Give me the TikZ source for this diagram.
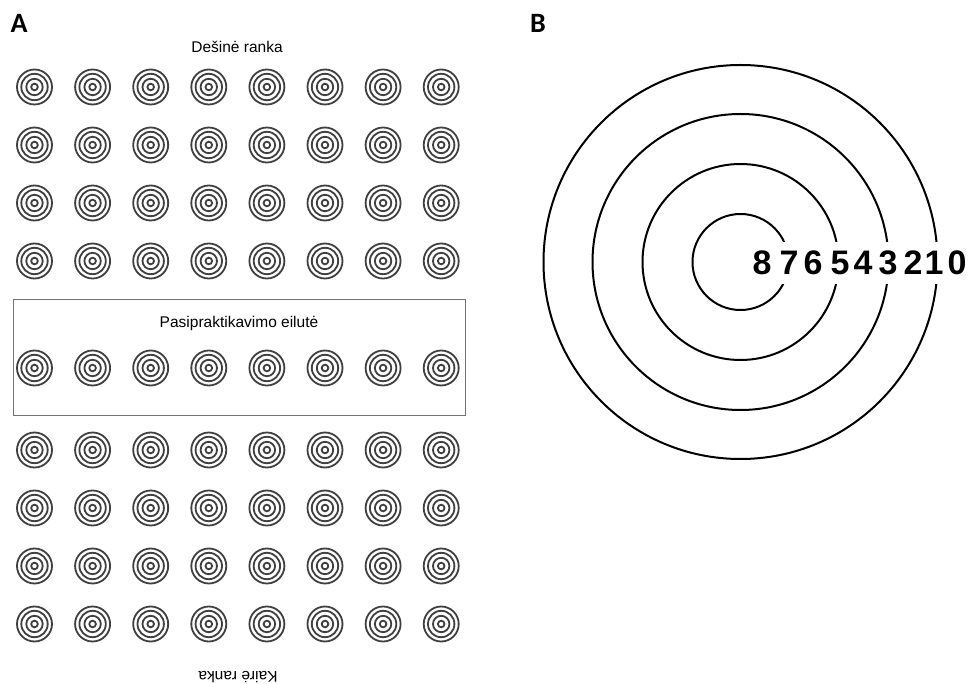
\documentclass[tikz,border=0pt]{standalone}
\usepackage{fontspec}
\setmainfont{Liberation Sans}
\newfontfamily\labfont{Carlito}
\begin{document}
\begin{tikzpicture}[x=1pt,y=-1pt,
  ring/.style={draw=black!75,line width=1.8pt},
  bigring/.style={draw=black,line width=2pt},
  tgt/.pic={\draw[ring] (0,0) circle (17.5pt) (0,0) circle (13.2pt) (0,0) circle (8.2pt) (0,0) circle (3.3pt);},
  panellab/.style={font=\labfont\bfseries\fontsize{28}{30}\selectfont,inner sep=0pt},
  caption/.style={font=\fontsize{15.5}{18}\selectfont,inner sep=0pt},
  digit/.style={font=\bfseries\fontsize{34}{36}\selectfont,inner sep=0pt}]
\useasboundingbox (0,0) rectangle (972,684);
\fill[white] (0,0) rectangle (972,684);
% panel labels
\node[panellab] (A) at (19,23) {A};
\node[panellab] (B) at (538,23) {B};
% panel A
\node[caption,anchor=base] (top) at (237,53) {Dešinė ranka};
\draw[draw=black!55,line width=1pt] (13,300) rectangle (465,416);
\node[caption,anchor=base] (prac) at (239,328) {Pasipraktikavimo eilutė};
\node[caption,rotate=180] (bot) at (238,677) {Kairė ranka};
\foreach \i in {0,...,7}
  \foreach \yy in {87,145,203,261,368,450,508,566,624}
    \pic at ({34.5+58.1*\i},\yy) {tgt};
% panel B
\draw[bigring] (740.5,262) circle (48pt) (740.5,262) circle (98pt)
  (740.5,262) circle (148pt) (740.5,262) circle (197pt);
\fill[white] (750,242) rectangle (972,284);
\node[digit] (d8) at (762,262.5) {8};
\node[digit] (d7) at (789,262.5) {7};
\node[digit] (d6) at (813,262.5) {6};
\node[digit] (d5) at (840,262.5) {5};
\node[digit] (d4) at (863,262.5) {4};
\node[digit] (d3) at (888,262.5) {3};
\node[digit] (d2) at (913,262.5) {2};
\node[digit] (d1) at (934,262.5) {1};
\node[digit] (d0) at (957,262.5) {0};
\end{tikzpicture}
\end{document}
